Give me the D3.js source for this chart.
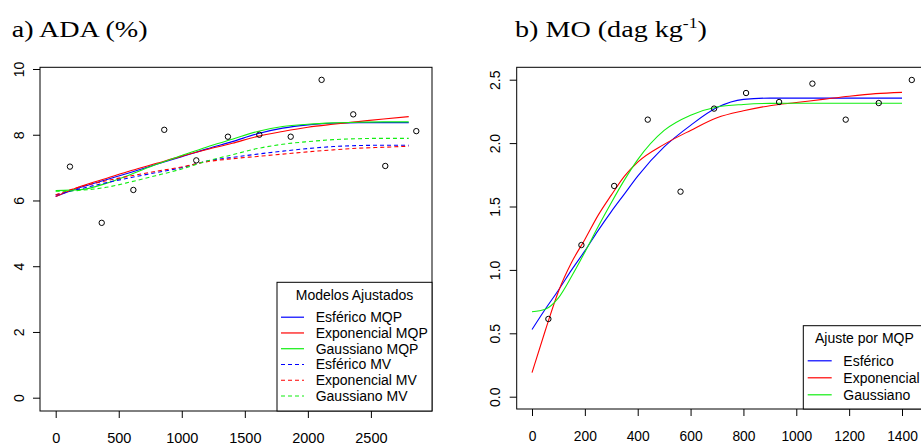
<!DOCTYPE html>
<html><head><meta charset="utf-8">
<script src="https://cdn.jsdelivr.net/npm/d3@7"></script>
<style>body{margin:0;background:#fff} svg{display:block}</style>
</head><body><svg id="c" width="921" height="446"></svg>
<script>
// ---------- Panel a) ADA (%) ----------
const adaDist = [113, 365, 616, 861, 1115, 1366, 1615, 1864, 2109, 2360, 2614, 2860];
const adaObs  = [7.03, 5.32, 6.32, 8.15, 7.22, 7.94, 8.00, 7.94, 9.67, 8.62, 7.05, 8.11];
const adaModelDist = [0, 200, 400, 600, 800, 1000, 1200, 1400, 1600, 1800, 2000, 2200, 2400, 2600, 2800];
const adaEsfMQP = [6.12, 6.40, 6.63, 6.86, 7.10, 7.33, 7.57, 7.79, 8.03, 8.20, 8.30, 8.35, 8.37, 8.37, 8.37];
const adaExpMQP = [6.12, 6.43, 6.67, 6.91, 7.13, 7.35, 7.55, 7.74, 7.95, 8.10, 8.23, 8.32, 8.40, 8.48, 8.55];
const adaGauMQP = [6.30, 6.33, 6.52, 6.80, 7.10, 7.37, 7.63, 7.86, 8.10, 8.25, 8.32, 8.36, 8.38, 8.39, 8.39];
const adaEsfMV  = [6.17, 6.36, 6.54, 6.70, 6.85, 7.00, 7.20, 7.31, 7.41, 7.50, 7.58, 7.64, 7.67, 7.68, 7.68];
const adaExpMV  = [6.17, 6.42, 6.60, 6.75, 6.89, 7.02, 7.18, 7.27, 7.34, 7.41, 7.48, 7.54, 7.59, 7.62, 7.65];
const adaGauMV  = [6.28, 6.31, 6.40, 6.57, 6.76, 6.96, 7.20, 7.39, 7.58, 7.71, 7.79, 7.85, 7.88, 7.89, 7.89];
const adaTicksX = [0, 500, 1000, 1500, 2000, 2500];
const adaTicksY = [0, 2, 4, 6, 8, 10];
const adaLegendTitle = "Modelos Ajustados";
const adaLegendLabels = ["Esférico MQP", "Exponencial MQP", "Gaussiano MQP", "Esférico MV", "Exponencial MV", "Gaussiano MV"];

// ---------- Panel b) MO (dag kg-1) ----------
const moDist = [62, 187, 311, 438, 562, 689, 810, 935, 1061, 1187, 1312, 1437];
const moObs  = [0.613, 1.196, 1.662, 2.185, 1.617, 2.272, 2.395, 2.324, 2.469, 2.185, 2.316, 2.498];
const moModelDist = [0, 50, 100, 150, 200, 250, 300, 350, 400, 500, 600, 700, 800, 900, 1000, 1100, 1200, 1300, 1400];
const moEsf = [0.53, 0.69, 0.84, 1.00, 1.15, 1.31, 1.46, 1.60, 1.74, 1.97, 2.14, 2.28, 2.345, 2.355, 2.355, 2.355, 2.355, 2.355, 2.355];
const moExp = [0.19, 0.52, 0.83, 1.06, 1.24, 1.43, 1.59, 1.74, 1.85, 1.99, 2.10, 2.20, 2.255, 2.295, 2.32, 2.345, 2.37, 2.39, 2.40];
const moGau = [0.67, 0.69, 0.78, 0.95, 1.14, 1.34, 1.53, 1.71, 1.87, 2.10, 2.22, 2.285, 2.305, 2.313, 2.314, 2.314, 2.314, 2.314, 2.314];
const moTicksX = [0, 200, 400, 600, 800, 1000, 1200, 1400];
const moTicksY = [0, 0.5, 1.0, 1.5, 2.0, 2.5];
const moLegendTitle = "Ajuste por MQP";
const moLegendLabels = ["Esférico", "Exponencial", "Gaussiano"];

const BLUE = "#0000ff", RED = "#ff0000", GREEN = "#11ee11";
const SANS = "'Liberation Sans', Arial, sans-serif";
const SERIF = "'Liberation Serif', 'Times New Roman', serif";

const svg = d3.select("#c");
svg.append("rect").attr("width", 921).attr("height", 446).attr("fill", "#fff");

function panel(cfg) {
  const g = svg.append("g");
  const x = d3.scaleLinear().domain(cfg.xDom).range(cfg.xRange);
  const y = d3.scaleLinear().domain(cfg.yDom).range(cfg.yRange);
  const line = d3.line().x((d) => x(d[0])).y((d) => y(d[1])).curve(d3.curveMonotoneX);

  // model curves
  cfg.series.forEach((s) => {
    g.append("path")
      .datum(cfg.modelDist.map((d, i) => [d, s.values[i]]))
      .attr("d", line).attr("fill", "none")
      .attr("stroke", s.color).attr("stroke-width", 1.1)
      .attr("stroke-dasharray", s.dash ? "4,3" : null);
  });

  // observed points
  g.selectAll("circle.pt").data(cfg.dist.map((d, i) => [d, cfg.obs[i]]))
    .join("circle").attr("class", "pt")
    .attr("cx", (d) => x(d[0])).attr("cy", (d) => y(d[1])).attr("r", 2.7)
    .attr("fill", "none").attr("stroke", "#000").attr("stroke-width", 1);

  // box
  g.append("rect").attr("x", cfg.box[0]).attr("y", cfg.box[1])
    .attr("width", cfg.box[2] - cfg.box[0]).attr("height", cfg.box[3] - cfg.box[1])
    .attr("fill", "none").attr("stroke", "#000").attr("stroke-width", 1);

  // x axis
  const ax = g.append("g").attr("transform", `translate(0,${cfg.box[3]})`)
    .call(d3.axisBottom(x).tickValues(cfg.ticksX).tickSize(7).tickFormat(d3.format("d")));
  ax.select(".domain").remove();
  ax.selectAll("line").attr("stroke", "#000");
  ax.selectAll("text").attr("y", 0).attr("dy", 0)
    .attr("transform", "translate(0,32)")
    .attr("font-family", SANS).attr("font-size", cfg.fontX).attr("fill", "#000");

  // y axis
  const ay = g.append("g").attr("transform", `translate(${cfg.box[0]},0)`)
    .call(d3.axisLeft(y).tickValues(cfg.ticksY).tickSize(7).tickFormat(cfg.fmtY));
  ay.select(".domain").remove();
  ay.selectAll("line").attr("stroke", "#000");
  ay.selectAll("text").attr("x", 0).attr("dy", 0)
    .attr("transform", `translate(${cfg.yLabelOff},0) rotate(-90)`)
    .attr("text-anchor", "middle")
    .attr("font-family", SANS).attr("font-size", 14).attr("fill", "#000");

  // legend
  const L = cfg.legend;
  const lg = g.append("g");
  lg.append("rect").attr("x", L.box[0]).attr("y", L.box[1])
    .attr("width", L.box[2] - L.box[0]).attr("height", L.box[3] - L.box[1])
    .attr("fill", "#fff").attr("stroke", "#000").attr("stroke-width", 1);
  lg.append("text").attr("x", L.titleX).attr("y", L.titleY)
    .attr("text-anchor", L.titleAnchor)
    .attr("font-family", SANS).attr("font-size", 14).text(L.title);
  L.labels.forEach((lab, i) => {
    const s = cfg.series[i];
    const yy = L.y0 + i * L.step;
    lg.append("line").attr("x1", L.lineX[0]).attr("x2", L.lineX[1])
      .attr("y1", yy).attr("y2", yy).attr("stroke", s.color).attr("stroke-width", 1.2)
      .attr("stroke-dasharray", s.dash ? "4,3" : null);
    lg.append("text").attr("x", L.textX).attr("y", yy + 5)
      .attr("font-family", SANS).attr("font-size", 14).text(lab);
  });
}

panel({
  xDom: [0, 2500], xRange: [55.7, 370.9],
  yDom: [0, 10], yRange: [397.7, 69],
  box: [40, 67.3, 432, 411],
  modelDist: adaModelDist,
  series: [
    { values: adaEsfMQP, color: BLUE, dash: false },
    { values: adaExpMQP, color: RED, dash: false },
    { values: adaGauMQP, color: GREEN, dash: false },
    { values: adaEsfMV, color: BLUE, dash: true },
    { values: adaExpMV, color: RED, dash: true },
    { values: adaGauMV, color: GREEN, dash: true }
  ],
  dist: adaDist, obs: adaObs,
  ticksX: adaTicksX, ticksY: adaTicksY, fmtY: d3.format("d"),
  fontX: 14.5, yLabelOff: -16,
  legend: {
    box: [277, 282.3, 432, 411], title: adaLegendTitle, titleX: 354.5, titleY: 299.5, titleAnchor: "middle",
    labels: adaLegendLabels, y0: 317.2, step: 15.76, lineX: [281, 304], textX: 315.7
  }
});

panel({
  xDom: [0, 1400], xRange: [532, 902],
  yDom: [0, 2.5], yRange: [396.7, 79.7],
  box: [516.7, 67.3, 935, 409],
  modelDist: moModelDist,
  series: [
    { values: moEsf, color: BLUE, dash: false },
    { values: moExp, color: RED, dash: false },
    { values: moGau, color: GREEN, dash: false }
  ],
  dist: moDist, obs: moObs,
  ticksX: moTicksX, ticksY: moTicksY, fmtY: d3.format(".1f"),
  fontX: 13.8, yLabelOff: -16.7,
  legend: {
    box: [803.3, 325.7, 935, 409], title: moLegendTitle, titleX: 815, titleY: 343.3, titleAnchor: "start",
    labels: moLegendLabels, y0: 360.8, step: 17, lineX: [807.7, 831.7], textX: 843.3
  }
});

// titles
svg.append("text").attr("transform", "translate(11.7,36.5) scale(1.25,1)")
  .attr("font-family", SERIF).attr("font-size", 22.5).attr("fill", "#000").text("a) ADA (%)");
const tb = svg.append("text").attr("transform", "translate(515,36.5) scale(1.25,1)")
  .attr("font-family", SERIF).attr("font-size", 22.5).attr("fill", "#000");
tb.append("tspan").text("b) MO (dag kg");
tb.append("tspan").attr("dy", -9).attr("font-size", 14).text("-1");
tb.append("tspan").attr("dy", 9).text(")");
</script></body></html>
